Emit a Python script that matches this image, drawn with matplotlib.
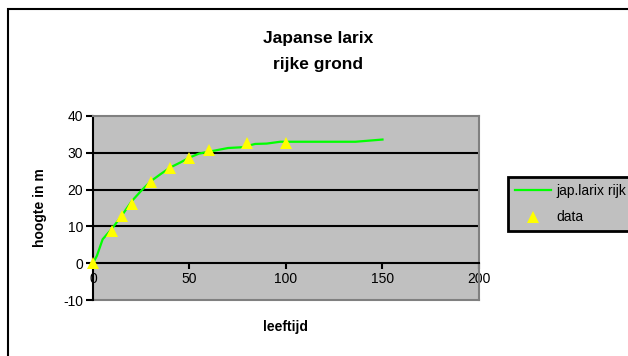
import matplotlib
matplotlib.use("Agg")
import matplotlib.pyplot as plt
from matplotlib.patches import Rectangle

plt.rcParams['font.family'] = ['Liberation Sans', 'DejaVu Sans']
plt.rcParams['axes.unicode_minus'] = False  # gewoon "-10" zoals in Excel

# curve (jap.larix rijk)
leeftijd = [0, 2, 5, 10, 15, 20, 25, 30, 35, 40, 45, 50, 55, 60, 65, 70, 77, 84, 90, 97, 100, 110, 120, 130, 136, 150]
hoogte = [0, 2, 6.5, 9.5, 13, 16.8, 19.7, 22.3, 24.2, 26, 27.3, 28.7, 29.8, 30.3, 30.8, 31.3, 31.5, 32.4, 32.5, 33, 33, 33, 33, 33, 33, 33.6]

# gemeten punten (data)
data_x = [0, 10, 15, 20, 30, 40, 50, 60, 80, 100]
data_y = [0, 8.7, 12.8, 16, 22, 25.8, 28.5, 30.7, 32.7, 32.7]

x_ticks = [0, 50, 100, 150, 200]
y_ticks = [-10, 0, 10, 20, 30, 40]

fig = plt.figure(figsize=(6.28, 3.56), dpi=100)
ax = fig.add_axes([0.1481, 0.1573, 0.6146, 0.5169])
ax.set_facecolor('#c0c0c0')

ax.plot(leeftijd, hoogte, color='#00ff00', linewidth=1.6, label='jap.larix rijk', zorder=3)
ax.plot(data_x, data_y, linestyle='none', marker='^', markersize=9,
        color='#ffff00', markeredgewidth=0, label='data', zorder=4, clip_on=False)

ax.set_xlim(0, 200)
ax.set_ylim(-10, 40)
ax.set_xticks(x_ticks)
ax.set_yticks(y_ticks)

# horizontale rasterlijnen
for g in [10, 20, 30]:
    ax.axhline(g, color='black', linewidth=1.5, zorder=2)

ax.spines['bottom'].set_position(('data', 0))
ax.spines['bottom'].set_color('black')
ax.spines['bottom'].set_linewidth(1.5)
ax.spines['left'].set_color('black')
ax.spines['left'].set_linewidth(1.5)
for s in ['top', 'right']:
    ax.spines[s].set_color('#808080')
    ax.spines[s].set_linewidth(1.5)
ax.axhline(-10, color='#808080', linewidth=1.5, clip_on=False, zorder=2)

ax.tick_params(axis='x', direction='out', length=4, width=1.5, labelsize=10, pad=2)
ax.tick_params(axis='y', direction='out', length=5, width=1.5, labelsize=10, pad=2)

# aslabels en titel
fig.text(286 / 628, 1 - 327 / 356, 'leeftijd', fontsize=10, fontweight='bold', ha='center', va='center')
fig.text(40 / 628, 1 - 208 / 356, 'hoogte in m', fontsize=10, fontweight='bold',
         ha='center', va='center', rotation=90)
fig.text(318 / 628, 1 - 38 / 356, 'Japanse larix', fontsize=12.5, fontweight='bold', ha='center', va='center')
fig.text(318 / 628, 1 - 65 / 356, 'rijke grond', fontsize=12.5, fontweight='bold', ha='center', va='center')

leg = ax.legend(loc='upper left', bbox_to_anchor=(508 / 628, 1 - 177 / 356),
                bbox_transform=fig.transFigure, fontsize=10, frameon=True,
                fancybox=False, facecolor='#c0c0c0', edgecolor='black',
                handlelength=2.6, borderpad=0.5, labelspacing=0.9, handletextpad=0.4,
                borderaxespad=0)
leg.get_frame().set_linewidth(2)
leg.get_frame().set_alpha(1)

# buitenkader van de grafiek
fig.add_artist(Rectangle((8 / 628, -0.1), 1.2, 1 - 9 / 356 + 0.1, transform=fig.transFigure,
                         fill=False, edgecolor='black', linewidth=1.5))

fig.savefig('out.png', dpi=100)
